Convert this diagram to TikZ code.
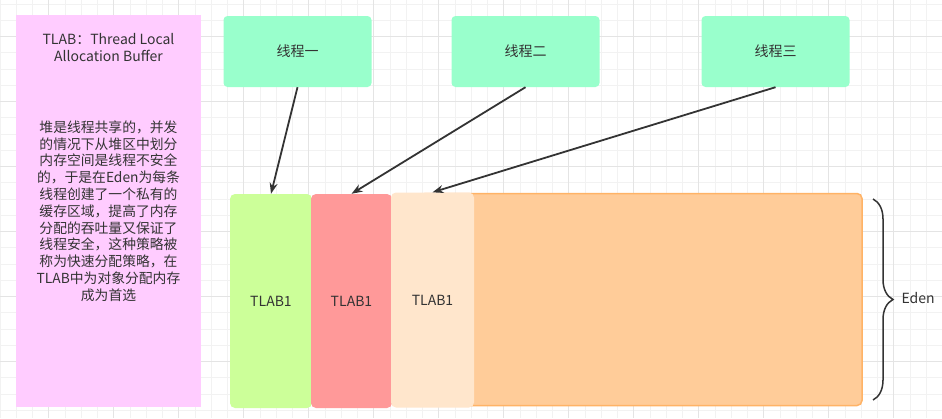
\documentclass[tikz,border=0pt]{standalone}
\usepackage{fontspec}
\setmainfont{Noto Sans CJK SC}
\usetikzlibrary{arrows.meta,decorations.pathreplacing}
\definecolor{txt}{HTML}{333333}
\definecolor{gridA}{HTML}{F2F2F2}
\definecolor{gridB}{HTML}{E4E4E4}
\definecolor{pinkbg}{HTML}{FFCCFF}
\definecolor{mint}{HTML}{99FFCC}
\definecolor{tlabgreen}{HTML}{CCFF99}
\definecolor{tlabred}{HTML}{FF9999}
\definecolor{tlabpeach}{HTML}{FFE6CC}
\definecolor{edenfill}{HTML}{FFCC99}
\definecolor{edenline}{HTML}{FFB366}
\begin{document}
\begin{tikzpicture}[x=1pt,y=-1pt,
  every node/.style={text=txt,font=\fontsize{14}{16.8}\selectfont},
  gridminor/.style={draw=gridA,line width=0.8pt},
  gridmajor/.style={draw=gridB,line width=0.8pt},
  thread/.style={fill=mint,rounded corners=4pt,minimum width=148pt,minimum height=71pt,inner sep=0pt},
  tlab/.style={rounded corners=5pt,minimum width=82pt,minimum height=214pt,inner sep=0pt},
  arr/.style={-{Stealth[length=11pt,width=8pt]},line width=1.8pt,draw=txt}]
\useasboundingbox (0,0) rectangle (942,418);
% background grid
\fill[white] (0,0) rectangle (942,418);
\foreach \i in {0,...,58}
{
\draw[gridminor] ({16.25*\i},0) -- ++(0,418);
}
\foreach \j in {0,...,25}
{
\draw[gridminor] (0,{4+16.25*\j}) -- ++(942,0);
}
\foreach \i in {0,...,14}
{
\draw[gridmajor] ({48.75+65*\i},0) -- ++(0,418);
}
\foreach \j in {0,...,5}
{
\draw[gridmajor] (0,{36.5+65*\j}) -- ++(942,0);
}
% left note
\fill[pinkbg] (16,15) rectangle (201,407);
\node[align=center,font=\fontsize{14}{17}\selectfont] (title) at (108.5,48) {TLAB：Thread Local\\Allocation Buffer};
\node[align=center,font=\fontsize{13.8}{16.8}\selectfont] (note) at (108.5,211) {堆是线程共享的，并发\\的情况下从堆区中划分\\内存空间是线程不安全\\的，于是在Eden为每条\\线程创建了一个私有的\\缓存区域，提高了内存\\分配的吞吐量又保证了\\线程安全，这种策略被\\称为快速分配策略，在\\TLAB中为对象分配内存\\成为首选};
% threads
\node[thread] (t1) at (297.5,51.5) {线程一};
\node[thread] (t2) at (525.5,51.5) {线程二};
\node[thread] (t3) at (775.5,51.5) {线程三};
% eden and tlabs
\node[tlab,fill=edenfill,draw=edenline,line width=1.5pt,minimum width=442pt,minimum height=212pt] (eden) at (641,299.5) {};
\node[tlab,fill=tlabgreen] (tlab1) at (271,301) {TLAB1};
\node[tlab,fill=tlabred,minimum width=81pt] (tlab2) at (351.5,301) {TLAB1};
\node[tlab,fill=tlabpeach,minimum width=83pt,minimum height=215pt] (tlab3) at (432.5,300) {TLAB1};
% arrows
\draw[arr] (t1.south) -- (tlab1.north);
\draw[arr] (t2.south) -- (tlab2.north);
\draw[arr] (t3.south) -- (tlab3.north);
% brace
\draw[txt,line width=1.5pt,decorate,decoration={brace,amplitude=20pt}] (873,199) -- (873,400);
\node[anchor=west] (edenlabel) at (898,298) {Eden};
\end{tikzpicture}
\end{document}
